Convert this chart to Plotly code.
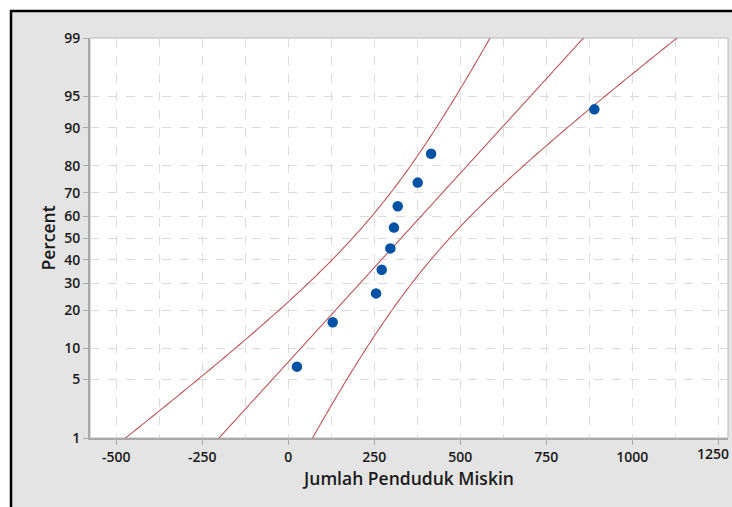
import math
from statistics import NormalDist
import plotly.graph_objects as go

# Data (Jumlah Penduduk Miskin)
values = [25, 129, 255, 271.5, 296.5, 307, 318, 376, 415, 889.5]
y_tick_percents = [1, 5, 10, 20, 30, 40, 50, 60, 70, 80, 90, 95, 99]
x_tick_values = [-500, -250, 0, 250, 500, 750, 1000, 1250]

nd = NormalDist()
n = len(values)
xs = sorted(values)
# Median ranks (Minitab default)
ranks = [(i + 1 - 0.3) / (n + 0.4) for i in range(n)]
zs = [nd.inv_cdf(p) for p in ranks]

mean = sum(xs) / n
sd = math.sqrt(sum((v - mean) ** 2 for v in xs) / (n - 1))

zlim = nd.inv_cdf(0.99)
zgrid = [-zlim - 0.05 + i * (2 * zlim + 0.1) / 400 for i in range(401)]
fit = [mean + z * sd for z in zgrid]
half = [1.96 * sd * math.sqrt(1 / n + z * z / (2 * n)) for z in zgrid]
lower = [f - h for f, h in zip(fit, half)]
upper = [f + h for f, h in zip(fit, half)]

line_color = "#b95757"
fig = go.Figure()
for arr in (lower, fit, upper):
    fig.add_trace(go.Scatter(x=arr, y=zgrid, mode="lines",
                             line=dict(color=line_color, width=1.1,
                                       simplify=False),
                             hoverinfo="skip", showlegend=False))
fig.add_trace(go.Scatter(x=xs, y=zs, mode="markers",
                         marker=dict(color="#0052a5", size=10.5),
                         showlegend=False))

W, H = 732, 507
L, R, T, B = 90, 4, 38, 69
pw, ph = W - L - R, H - T - B
tick_font = dict(size=14, weight=600, color="#1a1a1a")

# last x tick label is right-aligned at the window edge so it stays visible
x_ticktext = [str(v) for v in x_tick_values[:-1]] + [""]

grid = dict(gridcolor="#dcdcdc", griddash="dash", gridwidth=1)
fig.update_layout(
    width=W, height=H,
    margin=dict(l=L, r=R, t=T, b=B, autoexpand=False),
    paper_bgcolor="white",
    plot_bgcolor="white",
    font=dict(family="Open Sans, Noto Sans, sans-serif", color="#1a1a1a"),
    shapes=[
        dict(type="rect", xref="paper", yref="paper", layer="below",
             x0=(11 - L) / pw, x1=(W + 20 - L) / pw,
             y0=-(H + 20 - T - ph) / ph, y1=1 + (T - 11) / ph,
             fillcolor="#e4e4e4", line=dict(color="black", width=2.5)),
        dict(type="rect", xref="paper", yref="paper", layer="below",
             x0=0, x1=1, y0=0, y1=1, fillcolor="white",
             line=dict(color="#b8b8b8", width=1)),
    ],
    annotations=[
        dict(text=str(x_tick_values[-1]), xref="paper", yref="paper",
             x=(731 - L) / pw, y=-(453 - (T + ph)) / ph,
             xanchor="right", yanchor="middle", showarrow=False,
             font=tick_font),
    ],
)
fig.update_xaxes(
    range=[-576.5, 1278], tickvals=x_tick_values, ticktext=x_ticktext,
    showline=True, linecolor="#a8a8a8", linewidth=2,
    ticks="outside", ticklen=5, tickcolor="#a8a8a8",
    ticklabeloverflow="allow", automargin=False,
    tickfont=tick_font, zeroline=False, showgrid=True, **grid,
    minor=dict(dtick=125, tick0=0, showgrid=True, gridcolor="#dcdcdc",
               griddash="dash", ticks=""),
    title=dict(text="Jumlah Penduduk Miskin", font=dict(size=17.5, weight=600),
               standoff=8),
)
fig.update_yaxes(
    range=[-zlim, zlim],
    tickvals=[nd.inv_cdf(p / 100) for p in y_tick_percents],
    ticktext=[str(p) for p in y_tick_percents],
    showline=True, linecolor="#a8a8a8", linewidth=2,
    ticks="outside", ticklen=5, tickcolor="#a8a8a8",
    ticklabeloverflow="allow", automargin=False,
    tickfont=tick_font, zeroline=False, showgrid=True, **grid,
    title=dict(text="Percent", font=dict(size=17.5, weight=600), standoff=4),
)
fig.write_html(
    "out.html",
    config={"displayModeBar": False},
    post_script="document.body.style.margin='0';"
                "document.body.style.overflow='hidden';",
)
